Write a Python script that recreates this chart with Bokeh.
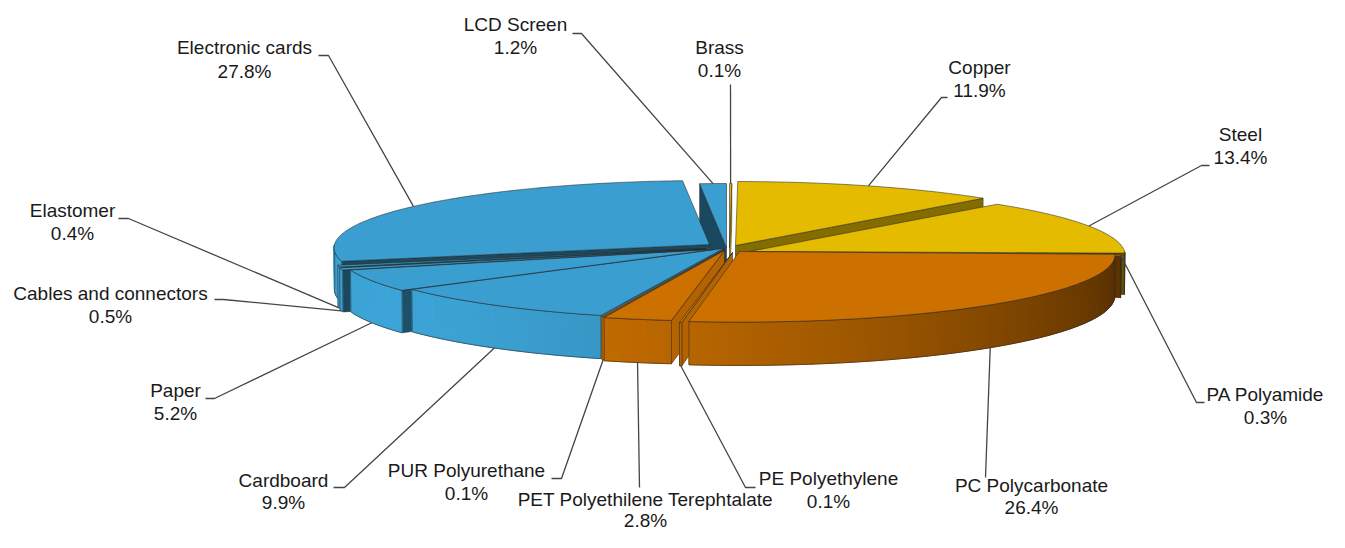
import numpy as np
from bokeh.plotting import figure
from bokeh.models import Range1d
from bokeh.embed import file_html
from bokeh.resources import INLINE
from bokeh.core.properties import value

# ---------------- data ----------------
materials = ["Brass", "Copper", "Steel", "PA Polyamide", "PC Polycarbonate",
             "PE Polyethylene", "PET Polyethilene Terephtalate", "PUR Polyurethane",
             "Cardboard", "Paper", "Cables and connectors", "Elastomer",
             "Electronic cards", "LCD Screen"]
shares = [0.1, 11.9, 13.4, 0.3, 26.4, 0.1, 2.8, 0.1, 9.9, 5.2, 0.5, 0.4, 27.8, 1.2]
groups = ["metal", "metal", "metal", "plastic", "plastic", "plastic", "plastic",
          "plastic", "other", "other", "other", "other", "other", "other"]
pct_labels = ["%.1f%%" % v for v in shares]

# ---------------- style / layout ----------------
BASE = {"metal": (229, 187, 0), "plastic": (204, 112, 0), "other": (58, 159, 208)}
OFFSETS = {"Brass": (0, 0), "Copper": (6, -2), "Steel": (20, 4), "PA Polyamide": (16, 6),
           "PC Polycarbonate": (10, 4), "PE Polyethylene": (3, 5),
           "PET Polyethilene Terephtalate": (-5, 3), "PUR Polyurethane": (-5, 2),
           "Cardboard": (-6, 1), "Paper": (-16, 2), "Cables and connectors": (-24, 2),
           "Elastomer": (-24, 1), "Electronic cards": (-20, -3), "LCD Screen": (-3, 0)}
LABEL_POS = {"Brass": (719, 47, 70), "Copper": (979, 67, 90), "Steel": (1240, 134, 157),
             "PA Polyamide": (1265, 394, 417), "PC Polycarbonate": (1031, 485, 507),
             "PE Polyethylene": (828, 478, 501), "PET Polyethilene Terephtalate": (645, 499, 520),
             "PUR Polyurethane": (466, 470, 493), "Cardboard": (283, 480, 502),
             "Paper": (175, 390, 413), "Cables and connectors": (110, 293, 316),
             "Elastomer": (72, 210, 233), "Electronic cards": (244, 47, 71),
             "LCD Screen": (515, 24, 47)}
LEADER = {"Brass": (730, 84, 730), "Copper": (941, 97, 947), "Steel": (1201, 165, 1209),
          "PA Polyamide": (1196, 402, 1204), "PC Polycarbonate": (985, 477, 985),
          "PE Polyethylene": (745, 487, 755), "PET Polyethilene Terephtalate": (639, 487, 639),
          "PUR Polyurethane": (561, 478, 551), "Cardboard": (344, 487, 333),
          "Paper": (214, 398, 205), "Cables and connectors": (223, 299, 214),
          "Elastomer": (128, 218, 118), "Electronic cards": (328, 55, 318),
          "LCD Screen": (581, 33, 572)}

CX, CY = 729.0, 247.0
R = 375.0
SIN_E = 0.179
COS_E = np.sqrt(1 - SIN_E ** 2)
DEPTH = 42.0
LD = 20 * R
EDGE = "#2b2b2b"


def shade(rgb, f):
    return "#%02x%02x%02x" % tuple(int(max(0, min(255, round(c * f)))) for c in rgb)


def pt(t_deg, r, z, off):
    t = np.radians(t_deg)
    X = r * np.cos(t)
    Y = r * np.sin(t)
    d = Y * COS_E - z * SIN_E
    s = LD / (LD + d)
    return CX + X * s + off[0], CY - (Y * SIN_E + z * COS_E) * s + off[1]


def arc(a, b, z, off, step=1.0):
    n = max(2, int(np.ceil(abs(b - a) / step)) + 1)
    ts = np.linspace(a, b, n)
    xs, ys = [], []
    for t in ts:
        x, y = pt(t, R, z, off)
        xs.append(x)
        ys.append(y)
    return xs, ys


tot = float(sum(shares))
edges = 90.0 - 360.0 * np.cumsum([0.0] + shares) / tot
t_hi = edges[:-1]
t_lo = edges[1:]

p = figure(width=1329, height=532, x_range=Range1d(0, 1329), y_range=Range1d(532, 0),
           output_backend="svg", toolbar_location=None, min_border=0,
           x_axis_location=None, y_axis_location=None)
p.grid.visible = False
p.outline_line_color = None
p.background_fill_color = "white"
p.border_fill_color = "white"

# ---- radial walls ----
walls = []
for i, name in enumerate(materials):
    off = OFFSETS[name]
    rgb = BASE[groups[i]]
    for t, normal, vis in ((t_lo[i], t_lo[i] - 90, np.cos(np.radians(t_lo[i])) > 0),
                           (t_hi[i], t_hi[i] + 90, np.cos(np.radians(t_hi[i])) < 0)):
        if not vis:
            continue
        c0 = pt(t, 0, 0, off)
        c1 = pt(t, R, 0, off)
        c2 = pt(t, R, -DEPTH, off)
        c3 = pt(t, 0, -DEPTH, off)
        f = 0.45 + 0.45 * max(0.0, np.cos(np.radians(normal))) ** 4
        key = np.sin(np.radians(t)) * R / 2 - off[1] * 5
        walls.append((key, [c0[0], c1[0], c2[0], c3[0]], [c0[1], c1[1], c2[1], c3[1]], shade(rgb, f)))
walls.sort(key=lambda w: -w[0])
if walls:
    p.patches([w[1] for w in walls], [w[2] for w in walls], fill_color=[w[3] for w in walls],
              line_color=EDGE, line_width=0.7, line_alpha=0.8)

# ---- outer curved walls (front half) ----
outer = []
for i, name in enumerate(materials):
    lo = max(t_lo[i], -180.0)
    hi = min(t_hi[i], 0.0)
    if hi <= lo:
        continue
    outer.append((np.sin(np.radians((lo + hi) / 2)), i, lo, hi))
outer.sort(key=lambda o: -o[0])
for _, i, lo, hi in outer:
    name = materials[i]
    off = OFFSETS[name]
    rgb = BASE[groups[i]]
    n = max(2, int(np.ceil((hi - lo) / 1.0)) + 1)
    ts = np.linspace(lo, hi, n)
    qx, qy, qc = [], [], []
    for a, b in zip(ts[:-1], ts[1:]):
        pa0 = pt(a, R, 0, off)
        pb0 = pt(b, R, 0, off)
        pb1 = pt(b, R, -DEPTH, off)
        pa1 = pt(a, R, -DEPTH, off)
        qx.append([pa0[0], pb0[0], pb1[0], pa1[0]])
        qy.append([pa0[1], pb0[1], pb1[1], pa1[1]])
        m = (a + b) / 2
        f = 0.70 + 0.33 * np.cos(np.radians(m + 150))
        qc.append(shade(rgb, f))
    p.patches(qx, qy, fill_color=qc, line_color=qc, line_width=1)
    tx, ty = arc(lo, hi, 0, off)
    bx, by = arc(hi, lo, -DEPTH, off)
    p.patch(tx + bx, ty + by, fill_alpha=0, line_color=EDGE, line_width=0.7, line_alpha=0.8)

# ---- top faces ----
top_x, top_y, top_c = [], [], []
for i, name in enumerate(materials):
    off = OFFSETS[name]
    c = pt(0, 0, 0, off)
    ax, ay = arc(t_lo[i], t_hi[i], 0, off)
    top_x.append([c[0]] + ax)
    top_y.append([c[1]] + ay)
    top_c.append(shade(BASE[groups[i]], 1.0))
p.patches(top_x, top_y, fill_color=top_c, line_color=EDGE, line_width=0.7, line_alpha=0.8)

# ---- leader lines ----
lx, ly = [], []
for i, name in enumerate(materials):
    off = OFFSETS[name]
    tm = (t_lo[i] + t_hi[i]) / 2
    z = -DEPTH if np.sin(np.radians(tm)) < -0.2 else 0.0
    a = pt(tm, R, z, off)
    ex, ey, hx = LEADER[name]
    lx.append([a[0], ex, hx])
    ly.append([a[1], ey, ey])
p.multi_line(lx, ly, line_color="#454545", line_width=1.3)

# ---- labels ----
p.text(x=[LABEL_POS[n][0] for n in materials], y=[LABEL_POS[n][1] for n in materials],
       text=materials, text_align="center", text_baseline="middle",
       text_font=value("Liberation Sans"), text_font_size="19px", text_color="#1a1a1a")
p.text(x=[LABEL_POS[n][0] for n in materials], y=[LABEL_POS[n][2] for n in materials],
       text=pct_labels, text_align="center", text_baseline="middle",
       text_font=value("Liberation Sans"), text_font_size="19px", text_color="#1a1a1a")

open("out.html", "w").write(file_html(p, INLINE))
